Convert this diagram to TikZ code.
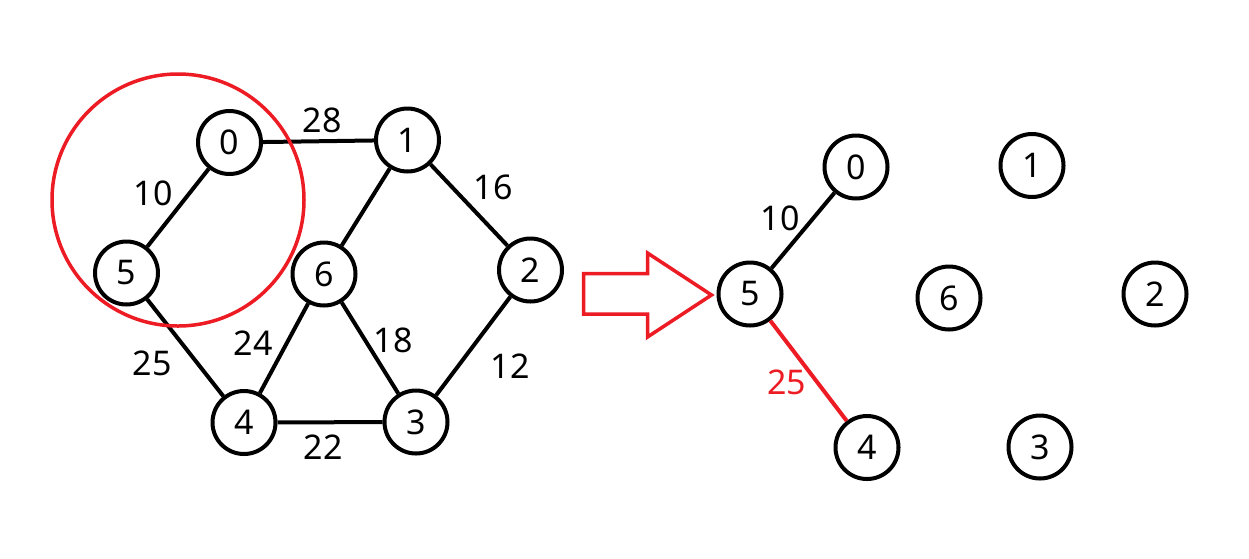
\documentclass[tikz,border=0pt]{standalone}
\usepackage{fontspec}
\setmainfont{Noto Sans}
\definecolor{pred}{HTML}{ED1C24}
\tikzset{
  vnode/.style={circle, draw=black, line width=4pt, minimum size=63pt, inner sep=0pt, font=\fontsize{34}{40}\selectfont},
  elabel/.style={font=\fontsize{34}{40}\selectfont, inner sep=0pt},
  edge/.style={line width=4pt, black},
  redge/.style={line width=4pt, pred},
}
\begin{document}
\begin{tikzpicture}[x=1pt, y=-1pt]
\useasboundingbox[fill=white] (0,0) rectangle (1249,558);
% left graph
\node[vnode] (L0) at (229.5,142.5) {0};
\node[vnode] (L1) at (407.5,140) {1};
\node[vnode] (L5) at (126.5,273) {5};
\node[vnode] (L6) at (324,274) {6};
\node[vnode] (L2) at (530.5,270) {2};
\node[vnode] (L4) at (244,422.5) {4};
\node[vnode] (L3) at (416,422) {3};
\draw[edge] (L5) -- (L0);
\draw[edge] (L0) -- (L1);
\draw[edge] (L1) -- (L6);
\draw[edge] (L1) -- (L2);
\draw[edge] (L5) -- (L4);
\draw[edge] (L6) -- (L4);
\draw[edge] (L6) -- (L3);
\draw[edge] (L2) -- (L3);
\draw[edge] (L4) -- (L3);
\node[elabel] (t28) at (322,120) {28};
\node[elabel] (t10) at (153,193) {10};
\node[elabel] (t16) at (493,187) {16};
\node[elabel] (t24) at (253,343) {24};
\node[elabel] (t18) at (393,340) {18};
\node[elabel] (t25) at (152,363) {25};
\node[elabel] (t12) at (510,366) {12};
\node[elabel] (t22) at (323,447) {22};
% red circle
\node[circle, draw=pred, line width=3.5pt, minimum size=252pt, inner sep=0pt] (rc) at (178,200) {};
% block arrow
\draw[pred, line width=3.5pt, line join=miter] (583.5,273.5) -- (647.5,273.5) -- (647.5,253) -- (711.5,295) -- (647.5,337) -- (647.5,314) -- (583.5,314) -- cycle;
% right graph
\node[vnode] (R0) at (856,167) {0};
\node[vnode] (R1) at (1032,165.5) {1};
\node[vnode] (R5) at (750,294) {5};
\node[vnode] (R6) at (949,298) {6};
\node[vnode] (R2) at (1155,294) {2};
\node[vnode] (R4) at (867,447.5) {4};
\node[vnode] (R3) at (1040,447) {3};
\draw[edge] (R5) -- (R0);
\draw[redge] (R5) -- (R4);
\node[elabel] (r10) at (780,218) {10};
\node[elabel, text=pred] (r25) at (786.5,382) {25};
\end{tikzpicture}
\end{document}
